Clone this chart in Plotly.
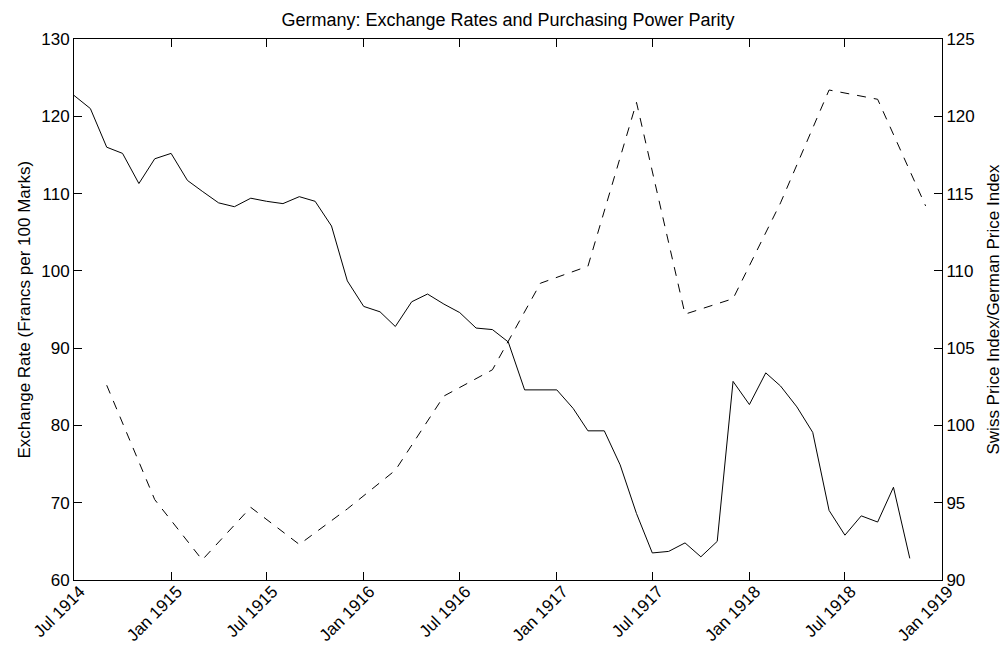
import pandas as pd
import plotly.graph_objects as go

# Monthly exchange rate (Francs per 100 Marks), Jul 1914 - Nov 1918
exchange_rate = [
    122.7, 121.0, 116.0, 115.2, 111.3, 114.5,
    115.2, 111.7, 110.3, 108.8, 108.3, 109.4, 109.0, 108.7, 109.6, 109.0, 105.8, 98.7,
    95.4, 94.7, 92.8, 96.0, 97.0, 95.7, 94.6, 92.6, 92.4, 90.8, 84.6, 84.6,
    84.6, 82.2, 79.3, 79.3, 74.9, 68.6, 63.5, 63.7, 64.8, 63.0, 65.0, 85.7,
    82.7, 86.8, 85.1, 82.4, 79.1, 69.0, 65.8, 68.3, 67.5, 72.0, 62.8,
]
rate_start = "1914-07-01"

# Quarterly price ratio (Swiss / German price index), Sep 1914 - Dec 1918
price_ratio = [
    102.6, 95.2, 91.3, 94.7, 92.3, 94.6, 97.1, 101.9, 103.6,
    109.2, 110.3, 120.9, 107.2, 108.2, 114.4, 121.7, 121.1, 114.2,
]
ratio_start = "1914-09-01"

tick_dates = ["1914-07-01", "1915-01-01", "1915-07-01", "1916-01-01", "1916-07-01",
              "1917-01-01", "1917-07-01", "1918-01-01", "1918-07-01", "1919-01-01"]
tick_labels = ["Jul 1914", "Jan 1915", "Jul 1915", "Jan 1916", "Jul 1916",
               "Jan 1917", "Jul 1917", "Jan 1918", "Jul 1918", "Jan 1919"]

left_title = "Exchange Rate (Francs per 100 Marks)"
right_title = "Swiss Price Index/German Price Index"

rate_dates = pd.date_range(rate_start, periods=len(exchange_rate), freq="MS")
ratio_dates = pd.date_range(ratio_start, periods=len(price_ratio), freq="3MS")

FONT = "Liberation Sans, Arial, Helvetica, sans-serif"
# page body has an 8px margin; figure sized to fit the 1008x649 window
W, H = 1000, 641
L, R, T, B = 66, 66, 31, 69
PW = W - L - R

fig = go.Figure()
fig.add_trace(go.Scatter(x=rate_dates, y=exchange_rate, mode="lines",
                         line=dict(color="black", width=1), showlegend=False))
fig.add_trace(go.Scatter(x=ratio_dates, y=price_ratio, mode="lines", yaxis="y2",
                         line=dict(color="black", width=1, dash="9px,8px"), showlegend=False))

fig.update_layout(
    width=W, height=H,
    paper_bgcolor="white", plot_bgcolor="white",
    margin=dict(l=L, r=R, t=T, b=B, autoexpand=False),
    font=dict(family=FONT, size=17, color="black"),
    title=dict(text="Germany: Exchange Rates and Purchasing Power Parity",
               x=(L + PW / 2) / W, xanchor="center", y=1 - 12 / H, yanchor="middle",
               yref="container", font=dict(size=18, family=FONT, color="black")),
    xaxis=dict(range=["1914-07-01", "1919-01-01"], tickvals=tick_dates, ticktext=tick_labels,
               tickangle=-45, ticks="inside", ticklen=8, tickcolor="black",
               ticklabelstandoff=-6, ticklabelshift=6,
               showline=True, linecolor="black", linewidth=1, mirror="ticks",
               showgrid=False, zeroline=False, tickfont=dict(size=17), automargin=False),
    yaxis=dict(range=[60, 130], tickvals=[60, 70, 80, 90, 100, 110, 120, 130],
               ticks="inside", ticklen=8, tickcolor="black",
               showline=True, linecolor="black", linewidth=1,
               showgrid=False, zeroline=False, tickfont=dict(size=17), automargin=False),
    yaxis2=dict(range=[90, 125], tickvals=[90, 95, 100, 105, 110, 115, 120, 125],
                overlaying="y", side="right", anchor="x",
                ticks="inside", ticklen=8, tickcolor="black",
                showline=True, linecolor="black", linewidth=1,
                showgrid=False, zeroline=False, tickfont=dict(size=17), automargin=False),
)

fig.add_annotation(text=left_title, xref="paper", yref="paper",
                   x=(16 - L) / PW, y=0.5, xanchor="center", yanchor="middle",
                   textangle=-90, showarrow=False, font=dict(size=17, family=FONT, color="black"))
fig.add_annotation(text=right_title, xref="paper", yref="paper",
                   x=(985 - L) / PW, y=0.5, xanchor="center", yanchor="middle",
                   textangle=-90, showarrow=False, font=dict(size=17, family=FONT, color="black"))

fig.write_html("out.html")
